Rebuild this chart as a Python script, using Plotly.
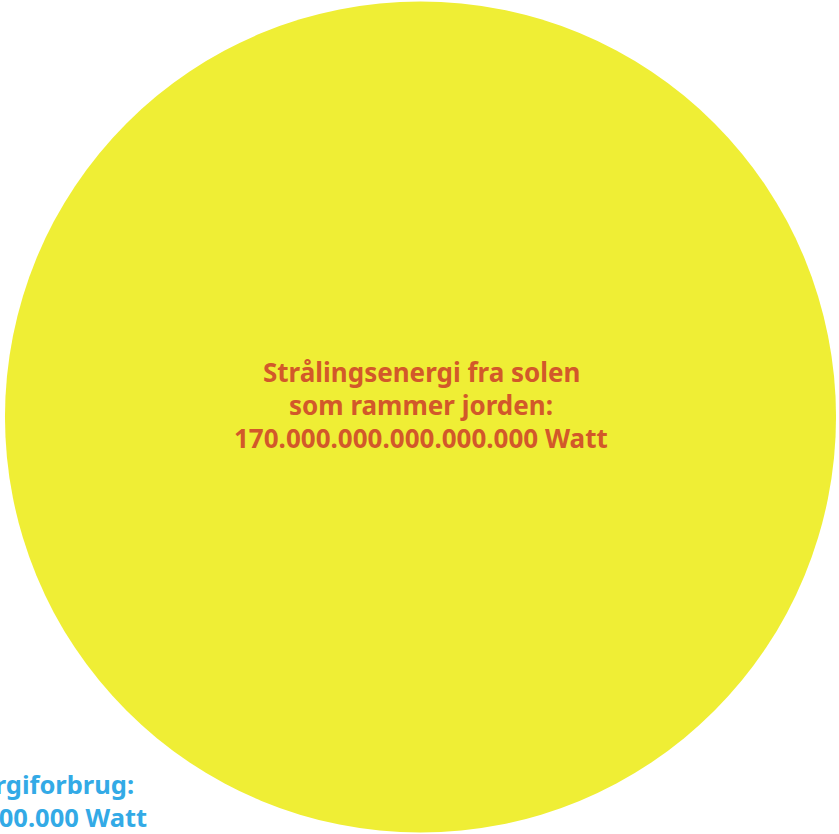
import math
import plotly.graph_objects as go

# ---- data ----
categories = ["Sun", "Human"]
labels = [
    ["Strålingsenergi fra solen", "som rammer jorden:", "170.000.000.000.000.000 Watt"],
    ["Menneskehedens energiforbrug:", "18.000.000.000.000 Watt"],
]
values_watt = [170_000_000_000_000_000, 18_000_000_000_000]

# ---- layout constants ----
W, H = 839, 834
UNIT = 1e12                # radius^2 in data units = watt / UNIT
PX_PER_UNIT = 1.0078
SUN_PX = (420.5, 417.0)    # pixel centre of the large circle
fill_colors = ["#EFEE35", "#33AAE6"]
text_colors = ["#D2582A", "#33AAE6"]

radii = [math.sqrt(v / UNIT) for v in values_watt]

x_range = [-SUN_PX[0] / PX_PER_UNIT, (W - SUN_PX[0]) / PX_PER_UNIT]
y_range = [-(H - SUN_PX[1]) / PX_PER_UNIT, SUN_PX[1] / PX_PER_UNIT]

def px_to_data(px, py):
    return ((px - SUN_PX[0]) / PX_PER_UNIT, (SUN_PX[1] - py) / PX_PER_UNIT)

centers = [px_to_data(*SUN_PX), px_to_data(-60, 760)]

fig = go.Figure()
fig.add_trace(go.Scatter(x=[c[0] for c in centers], y=[c[1] for c in centers],
                         mode="markers", marker=dict(size=0.1, opacity=0),
                         hoverinfo="skip", showlegend=False))

shapes = []
for (cx, cy), r, col in zip(centers, radii, fill_colors):
    shapes.append(dict(type="circle", xref="x", yref="y",
                       x0=cx - r, x1=cx + r, y0=cy - r, y1=cy + r,
                       fillcolor=col, line=dict(width=0), layer="below"))

annotations = []
# sun label: centred lines
for i, line in enumerate(labels[0]):
    annotations.append(dict(
        text="<b>%s</b>" % line, xref="paper", yref="paper",
        x=421 / W, y=1 - (372 + 33 * i) / H, xanchor="center", yanchor="middle",
        showarrow=False, font=dict(family="Noto Sans", size=26, color=text_colors[0])))
# human label: right ends as in reference
right_ends = [136, 149]
for i, line in enumerate(labels[1]):
    annotations.append(dict(
        text="<b>%s</b>" % line, xref="paper", yref="paper",
        x=right_ends[i] / W, y=1 - (784 + 33 * i) / H, xanchor="right", yanchor="middle",
        showarrow=False, font=dict(family="Noto Sans", size=25.5, color=text_colors[1])))

fig.update_layout(
    width=W, height=H, margin=dict(l=0, r=0, t=0, b=0),
    paper_bgcolor="white", plot_bgcolor="white",
    xaxis=dict(range=x_range, visible=False, fixedrange=True),
    yaxis=dict(range=y_range, visible=False, fixedrange=True),
    shapes=shapes, annotations=annotations, showlegend=False,
)

fig.write_html(
    "out.html",
    config={"displayModeBar": False},
    post_script="document.body.style.margin='0';document.body.style.overflow='hidden';",
)
